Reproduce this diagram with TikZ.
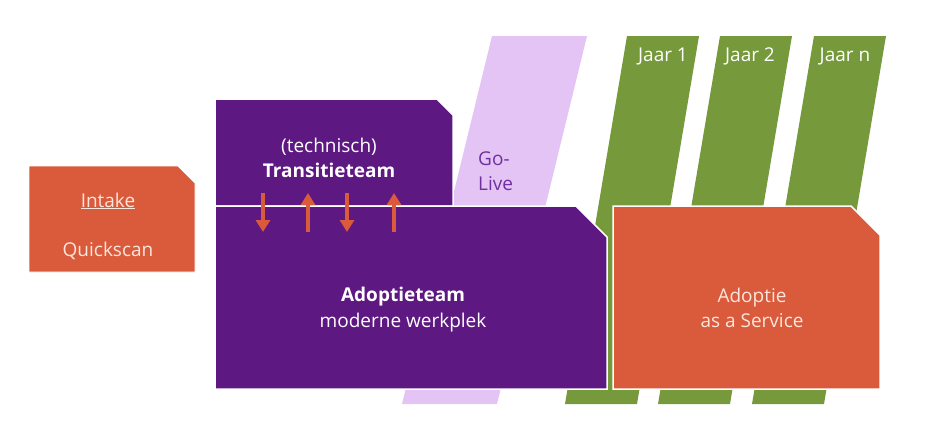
\documentclass[tikz,border=0pt]{standalone}
\usepackage{fontspec}
\setmainfont{Open Sans}
\usetikzlibrary{arrows.meta}
\definecolor{paars}{HTML}{5E1882}
\definecolor{oranje}{HTML}{DA5A3C}
\definecolor{groen}{HTML}{76993C}
\definecolor{lila}{HTML}{E4C4F4}
\definecolor{golive}{HTML}{7030A0}
\definecolor{licht}{HTML}{FCE6DC}
\newcommand{\cutbox}[6]{\filldraw[#1] (#2,#3) -- (#4-#6,#3) -- (#4,#3+#6) -- (#4,#5) -- (#2,#5) -- cycle;}
\newcommand{\balk}[4]{\fill[#1] (#2,36) -- (#2+#4,36) -- (#3+#4,404) -- (#3,404) -- cycle;}

\begin{document}
\begin{tikzpicture}[x=1pt,y=-1pt,
  txt/.style={font=\fontsize{19}{23}\selectfont,inner sep=0pt,anchor=base},
  pijl/.style={draw=oranje,line width=4.5pt,-{Triangle[width=14pt,length=12pt]}}]
  \useasboundingbox (0,0) rectangle (930,434);
  \balk{lila}{492}{402}{95}
  \balk{groen}{627}{565}{72}
  \balk{groen}{720}{658}{72}
  \balk{groen}{814}{752}{72}
  \cutbox{oranje,draw=white,line width=0.8pt}{29}{166}{195}{272}{17}
  \cutbox{paars,draw=white,line width=1.5pt}{215}{99}{453}{206}{16}
  \cutbox{paars,draw=white,line width=1.5pt}{215}{206}{607}{389}{31}
  \cutbox{oranje,draw=white,line width=1.5pt}{613}{206}{880}{389}{29}
  \coordinate (a1) at (263,193); \coordinate (b1) at (263,232);
  \coordinate (a2) at (308,193); \coordinate (b2) at (308,232);
  \coordinate (a3) at (347,193); \coordinate (b3) at (347,232);
  \coordinate (a4) at (394,193); \coordinate (b4) at (394,232);
  \draw[pijl] (a1) -- (b1);
  \draw[pijl] (b2) -- (a2);
  \draw[pijl] (a3) -- (b3);
  \draw[pijl] (b4) -- (a4);
  \node (intake) [txt,text=licht] at (108,207) {\underline{Intake}};
  \node (quickscan) [txt,text=licht] at (108,256) {Quickscan};
  \node (technisch) [txt,text=white] at (329,152) {(technisch)};
  \node (transitie) [txt,text=white] at (329,177) {\textbf{Transitieteam}};
  \node (go) [txt,anchor=base west,text=golive] at (478,165) {Go-};
  \node (live) [txt,anchor=base west,text=golive] at (478,190) {Live};
  \node (jaar1) [txt,text=white] at (663,61) {Jaar 1};
  \node (jaar2) [txt,text=white] at (750,61) {Jaar 2};
  \node (jaarn) [txt,text=white] at (845,61) {Jaar n};
  \node (adoptie) [txt,text=white] at (403,301) {\textbf{Adoptieteam}};
  \node (werkplek) [txt,text=white] at (403,327) {moderne werkplek};
  \node (aas) [txt,text=licht] at (752,302) {Adoptie};
  \node (service) [txt,text=licht] at (752,327) {as a Service};
\end{tikzpicture}
\end{document}
